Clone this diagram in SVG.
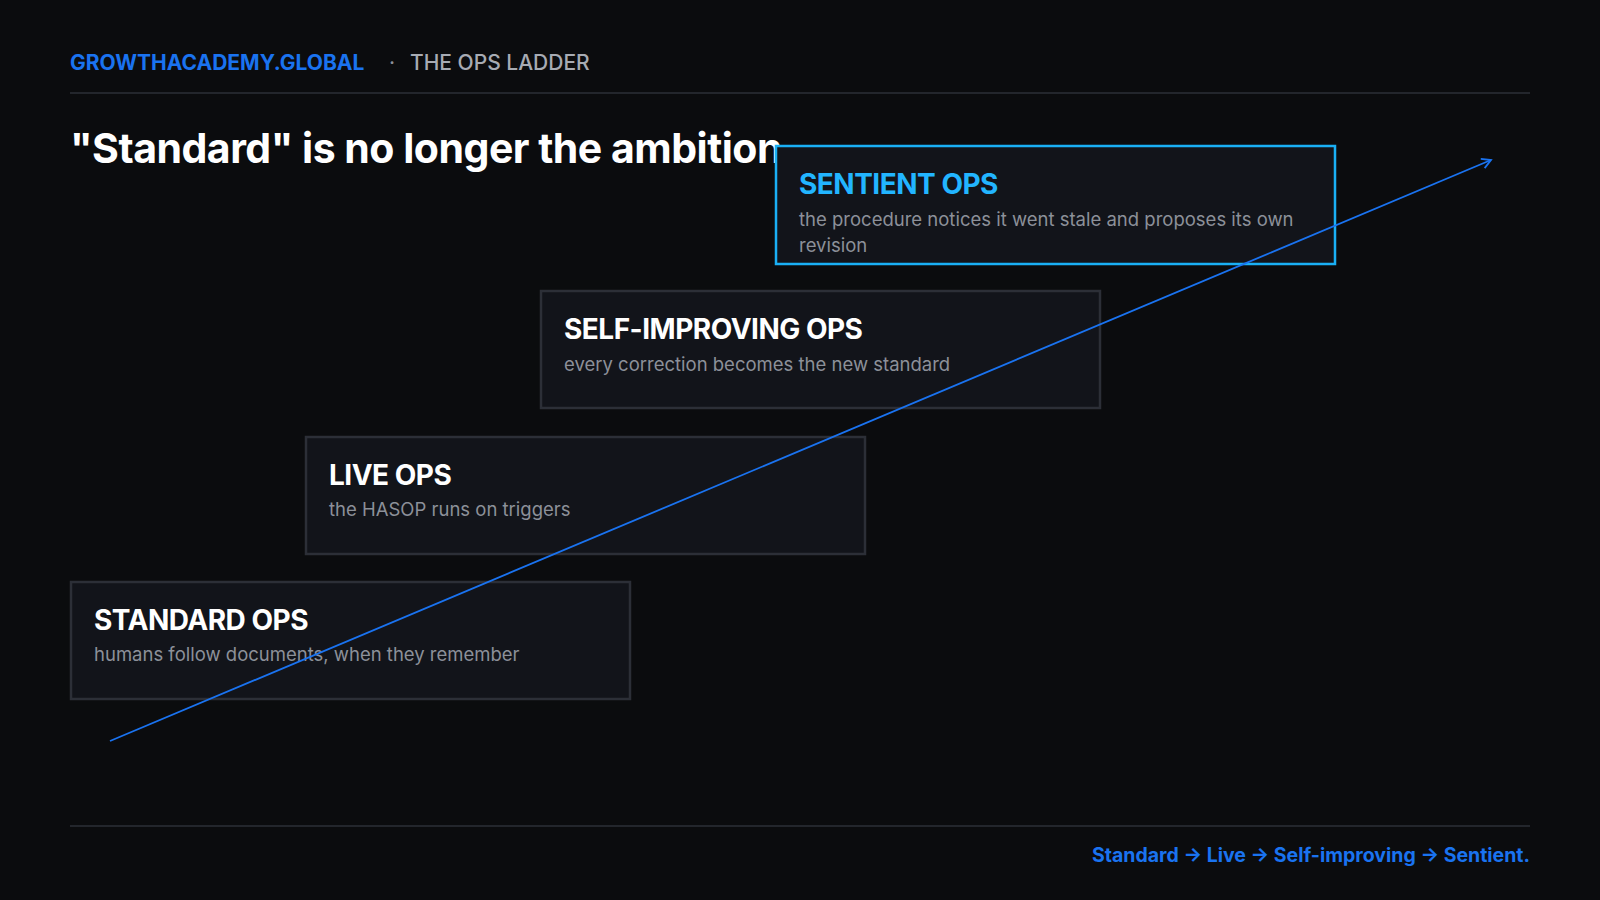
<svg xmlns="http://www.w3.org/2000/svg" width="1600" height="900" viewBox="0 0 1600 900">
<style>
text{font-family:Inter,"Noto Sans","Liberation Sans",sans-serif}
.box{fill:#12141a;stroke:#2c2f37;stroke-width:2.5}
.t{fill:#ffffff;font-size:28px;font-weight:700;letter-spacing:-0.5px}
.s{fill:#8c9099;font-size:18.5px}
</style>
<defs>
<marker id="ah" viewBox="0 0 12 12" refX="10" refY="6" markerWidth="12" markerHeight="12" markerUnits="userSpaceOnUse" orient="auto">
<path d="M1,1 L10,6 L1,11" fill="none" stroke="#1a73f0" stroke-width="1.8"/>
</marker>
</defs>
<rect width="1600" height="900" fill="#0b0c0e"/>
<g id="header">
<text x="70" y="70" font-size="21" font-weight="700" fill="#1a73f0">GROWTHACADEMY.GLOBAL</text>
<text x="389" y="70" font-size="21" fill="#8c9099">·</text>
<text x="410" y="70" font-size="21" font-weight="500" fill="#a7abb3">THE OPS LADDER</text>
<line x1="70" y1="93" x2="1530" y2="93" stroke="#2c2f37" stroke-width="1.5"/>
<text x="70" y="163" font-size="41" font-weight="700" fill="#ffffff" letter-spacing="-0.5">"Standard" is no longer the ambition</text>
</g>
<g id="standard">
<rect class="box" x="71" y="582" width="559" height="117"/>
<text class="t" x="94" y="630">STANDARD OPS</text>
<text class="s" x="94" y="661">humans follow documents, when they remember</text>
</g>
<g id="live">
<rect class="box" x="306" y="437" width="559" height="117"/>
<text class="t" x="329" y="485">LIVE OPS</text>
<text class="s" x="329" y="516">the HASOP runs on triggers</text>
</g>
<g id="selfimproving">
<rect class="box" x="541" y="291" width="559" height="117"/>
<text class="t" x="564" y="339">SELF-IMPROVING OPS</text>
<text class="s" x="564" y="371">every correction becomes the new standard</text>
</g>
<g id="sentient">
<rect class="box" x="776" y="146" width="559" height="118" style="stroke:#1ab0f5"/>
<text class="t" x="799" y="194" style="fill:#22b5ff">SENTIENT OPS</text>
<text class="s" x="799" y="226">the procedure notices it went stale and proposes its own</text>
<text class="s" x="799" y="252">revision</text>
</g>
<g id="connectors">
<line x1="110" y1="741" x2="1491" y2="160" stroke="#1a73f0" stroke-width="1.8" marker-end="url(#ah)"/>
</g>
<g id="footer">
<line x1="70" y1="826" x2="1530" y2="826" stroke="#2c2f37" stroke-width="1.5"/>
<text x="1530" y="862" text-anchor="end" font-size="19.5" font-weight="700" fill="#1a73f0">Standard → Live → Self-improving → Sentient.</text>
</g>
</svg>
